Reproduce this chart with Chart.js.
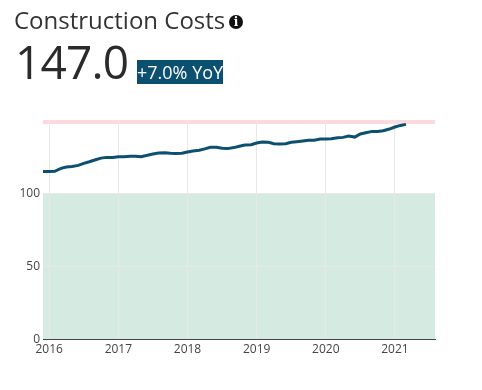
<!DOCTYPE html>
<html>
<head>
<meta charset="utf-8">
<title>Construction Costs</title>
<script src="https://cdn.jsdelivr.net/npm/chart.js@4/dist/chart.umd.min.js"></script>
<style>
  html,body{margin:0;padding:0;background:#fff;width:482px;height:390px;overflow:hidden;font-family:"Open Sans",sans-serif;color:#333}
  #chart{position:absolute;left:0;top:0}
  #title{position:absolute;left:14px;top:3px;font-size:24px;line-height:33px;white-space:nowrap}
  #info{position:absolute;left:229px;top:15px;width:14px;height:14px;border-radius:50%;background:#111;color:#fff;font:bold 12px/14px "DejaVu Serif",serif;text-align:center}
  #big{position:absolute;left:15px;top:29px;font-size:46px;line-height:65px;letter-spacing:-.8px;white-space:nowrap;color:#2b2b2b}
  #yoy{position:absolute;left:137px;top:60px;width:86px;height:24px;background:#0b4f71;color:#fff;font-size:18px;line-height:25px;text-align:center;white-space:nowrap}
</style>
</head>
<body>
<canvas id="chart" width="482" height="390"></canvas>
<div id="title">Construction Costs</div>
<div id="info">i</div>
<div id="big">147.0</div>
<div id="yoy">+7.0% YoY</div>
<script>
// one value per month, Dec 2015 to Mar 2021
const months=[2015.91,
  2016,2016.08,2016.17,2016.25,2016.33,2016.42,2016.5,2016.58,2016.67,2016.75,2016.83,2016.92,
  2017,2017.08,2017.17,2017.25,2017.33,2017.42,2017.5,2017.58,2017.67,2017.75,2017.83,2017.92,
  2018,2018.08,2018.17,2018.25,2018.33,2018.42,2018.5,2018.58,2018.67,2018.75,2018.83,2018.92,
  2019,2019.08,2019.17,2019.25,2019.33,2019.42,2019.5,2019.58,2019.67,2019.75,2019.83,2019.92,
  2020,2020.08,2020.17,2020.25,2020.33,2020.42,2020.5,2020.58,2020.67,2020.75,2020.83,2020.92,
  2021,2021.08,2021.16];
const costs=[114.8,
  114.8,114.9,116.9,117.8,118.2,118.9,120.3,121.4,122.8,123.9,124.4,124.4,
  124.9,124.9,125.1,125.1,124.9,125.8,126.7,127.4,127.6,127.2,127.0,127.2,
  128.1,128.8,129.3,130.2,131.3,131.3,130.6,130.4,131.1,132.0,132.8,133.1,
  134.2,134.9,134.7,133.8,133.5,133.8,134.7,135.1,135.6,136.1,136.1,137.0,
  137.0,137.2,137.9,138.1,139.0,138.3,140.4,141.3,142.2,142.2,142.7,143.8,
  145.2,146.3,147.0];
const xTicks=[2016,2017,2018,2019,2020,2021];
const yTicks=[0,50,100];
const greenBand=[0,100];
const redBand=[147.3,150];

// coloured zones go under the grid, so they are painted before the scales
const bands={
  id:'bands',
  beforeDraw(c){
    const {ctx,chartArea:a,scales:{y}}=c;
    const fillBand=(b,col)=>{
      const top=y.getPixelForValue(b[1]),bot=y.getPixelForValue(b[0]);
      ctx.fillStyle=col;
      ctx.fillRect(a.left,top,a.right-a.left,bot-top);
    };
    fillBand(greenBand,'#d5ebe1');
    fillBand(redBand,'#fadadd');
  }
};

new Chart(document.getElementById('chart').getContext('2d'),{
  type:'line',
  data:{datasets:[{
    data:months.map((m,i)=>({x:m,y:costs[i]})),
    borderColor:'#0b4f71',borderWidth:3,pointRadius:0,tension:0,clip:false
  }]},
  options:{
    responsive:false,animation:false,
    layout:{padding:{top:120,right:47,left:0,bottom:0}},
    plugins:{legend:{display:false},tooltip:{enabled:false}},
    scales:{
      x:{type:'linear',min:2015.91,max:2021.58,
        afterBuildTicks:s=>{s.ticks=xTicks.map(v=>({value:v}));},
        afterFit:s=>{s.height=51;},
        border:{display:true,color:'#444',width:1},
        grid:{color:'#e8e8e8',lineWidth:1,drawTicks:false},
        ticks:{color:'#444',font:{family:'"Open Sans"',size:12},padding:3,maxRotation:0,autoSkip:false,callback:v=>String(v)}},
      y:{min:0,max:150,
        afterBuildTicks:s=>{s.ticks=yTicks.map(v=>({value:v}));},
        afterFit:s=>{s.width=43;},
        border:{display:false},
        grid:{color:'#e8e8e8',lineWidth:1,drawTicks:false},
        ticks:{color:'#444',font:{family:'"Open Sans"',size:12},padding:3,labelOffset:1}}
    }
  },
  plugins:[bands]
});
</script>
</body>
</html>
